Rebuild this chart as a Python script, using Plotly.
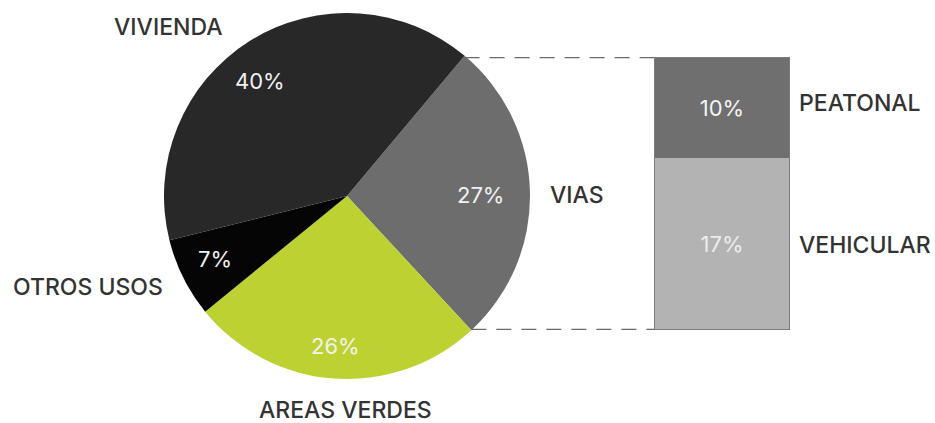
import math
import plotly.graph_objects as go

# ---- data ----
pie_labels = ["VIAS", "AREAS VERDES", "OTROS USOS", "VIVIENDA"]
pie_values = [27, 26, 7, 40]
pie_colors = ["#6d6d6d", "#bdd230", "#050505", "#282828"]

bar_labels = ["VEHICULAR", "PEATONAL"]
bar_values = [17, 10]
bar_colors = ["#b3b3b3", "#6f6f6f"]
bar_text_colors = ["#ececec", "#f4f4f4"]

W, H = 935, 423
cx, cy, r = 347, 196, 183
rotation = 40
bar_x0, bar_x1 = 654, 790
bar_top, bar_bot = 57, 330

fig = go.Figure()

fig.add_trace(go.Pie(
    labels=pie_labels, values=pie_values, sort=False, direction="clockwise",
    rotation=rotation,
    marker=dict(colors=pie_colors, line=dict(width=0)),
    textinfo="none",
    domain=dict(x=[(cx - r) / W, (cx + r) / W], y=[1 - (cy + r) / H, 1 - (cy - r) / H]),
    showlegend=False, hoverinfo="label+percent",
))

for lab, v, c, tc in zip(bar_labels, bar_values, bar_colors, bar_text_colors):
    fig.add_trace(go.Bar(
        x=[0], y=[v], width=[1], name=lab,
        marker=dict(color=c, line=dict(width=0)),
        text=[f"{v}%"], textposition="inside", insidetextanchor="middle",
        textfont=dict(family="Inter", size=22, color=tc),
        showlegend=False,
    ))

total_sub = sum(bar_values)
fig.update_layout(
    width=W, height=H, margin=dict(l=0, r=0, t=0, b=0),
    paper_bgcolor="white", plot_bgcolor="rgba(0,0,0,0)",
    barmode="stack",
    xaxis=dict(domain=[bar_x0 / W, bar_x1 / W], range=[-0.5, 0.5], visible=False, fixedrange=True),
    yaxis=dict(domain=[1 - bar_bot / H, 1 - bar_top / H], range=[0, total_sub], visible=False, fixedrange=True),
)

# outer border of bar
fig.add_shape(type="rect", xref="x", yref="y", x0=-0.5, x1=0.5, y0=0, y1=total_sub,
              line=dict(color="#7d7d7d", width=2), fillcolor="rgba(0,0,0,0)")

# connector lines from the VIAS slice edges to the bar
total = sum(pie_values)
a0 = math.radians(rotation)
a1 = math.radians(rotation + 360 * pie_values[0] / total)
for ang, yv in [(a0, total_sub), (a1, 0)]:
    ex = cx + r * math.sin(ang)
    fig.add_shape(type="line", xref="paper", yref="y",
                  x0=ex / W, x1=bar_x0 / W, y0=yv, y1=yv,
                  line=dict(color="#6a6a6a", width=2.5, dash="15px,10px"))

# percentage texts on the pie (text from data)
pct_pos = {"VIAS": (480, 195), "AREAS VERDES": (335, 346), "OTROS USOS": (215, 259), "VIVIENDA": (260, 81)}
for lab, v in zip(pie_labels, pie_values):
    px, py = pct_pos[lab]
    fig.add_annotation(text=f"{round(100 * v / total)}%", x=px / W, y=1 - py / H,
                       xref="paper", yref="paper", showarrow=False,
                       xanchor="center", yanchor="middle",
                       font=dict(family="Inter", size=22, color="#f2f2f2"))

lab_font = dict(family="Inter", size=23, color="#333333", weight=500)
labels_pos = [
    ("VIVIENDA", 168, 27, "center"),
    ("VIAS", 577, 195, "center"),
    ("OTROS USOS", 88, 287, "center"),
    ("AREAS VERDES", 345, 410, "center"),
    ("PEATONAL", 797, 103, "left"),
    ("VEHICULAR", 797, 245, "left"),
]
for t, x, y, anc in labels_pos:
    fig.add_annotation(text=t, x=x / W, y=1 - y / H, xref="paper", yref="paper",
                       xanchor=anc, yanchor="middle", showarrow=False, font=lab_font)

fig.write_html("out.html", config={"displayModeBar": False},
               post_script="document.body.style.margin='0';")
